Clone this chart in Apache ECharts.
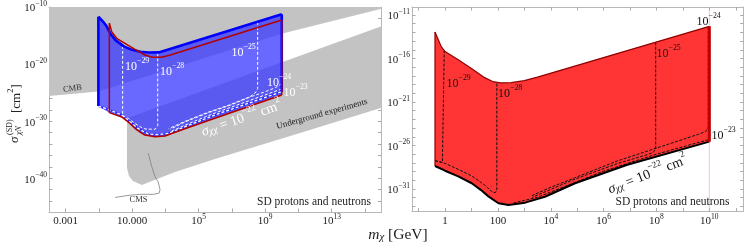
<!DOCTYPE html>
<html><head><meta charset="utf-8">
<script src="https://cdn.jsdelivr.net/npm/echarts@6/dist/echarts.min.js"></script>
<style>html,body{margin:0;padding:0;background:#fff}#c{width:747px;height:247px}</style>
</head><body><div id="c"></div>
<script>
// All values are log10: x = log10(m_chi / GeV), y = log10(sigma / cm^2)
// ---------- ticks ----------
const leftXTicks = [-3, 1, 5, 9, 13];
const leftXTickLabels = ['0.001', '10.000', '10^5', '10^9', '10^13'];
const leftXMinorTicks = [-3, -1, 1, 3, 5, 7, 9, 11, 13, 15];
const leftYTicks = [-40, -30, -20, -10];
const leftYTickLabels = ['10^-40', '10^-30', '10^-20', '10^-10'];
const leftYMinorTicks = [-44, -42, -40, -38, -36, -34, -32, -30, -28, -26, -24, -22, -20, -18, -16, -14, -12];
const rightXTicks = [0, 2, 4, 6, 8, 10];
const rightXTickLabels = ['1', '100', '10^4', '10^6', '10^8', '10^10'];
const rightXMinorTicks = [-1, 0, 1, 2, 3, 4, 5, 6, 7, 8, 9, 10, 11];
const rightYTicks = [-31, -26, -21, -16, -11];
const rightYTickLabels = ['10^-31', '10^-26', '10^-21', '10^-16', '10^-11'];
const rightYMinorTicks = [-33, -32, -31, -30, -29, -28, -27, -26, -25, -24, -23, -22, -21, -20, -19, -18, -17, -16, -15, -14, -13, -12, -11];

// ---------- left panel ----------
const cmbRegion = [[-4, -10], [16, -10], [16, -10.3], [10.1, -14.6], [-1.05, -24.8], [-4, -25.6]];
const undergroundRegion = [[0.69, -29.5], [16, -13.35], [16, -27.65], [11.1, -32.07], [5.98, -36.62], [3.58, -38.9], [1.58, -41.17], [1.05, -40.47], [0.81, -39.6], [0.69, -38.2]];
const cmsLeader = [[1.97, -35.6], [2.18, -37.95], [2.38, -39.7], [2.57, -40.65], [2.68, -42.0], [2.62, -42.6], [2.3, -42.8], [1.47, -42.8], [0.75, -43.0], [-0.03, -43.35]];
const blueTop = [[-1.03, -11.7], [-0.75, -12.55], [-0.55, -13.3], [-0.3, -14.7], [0.0, -15.8], [0.5, -16.9], [1.0, -17.5], [1.5, -17.85], [2.0, -17.98], [2.6, -17.95], [10.0, -11.25]];
const blueBottom = [[-1.03, -27.34], [-0.23, -28.16], [0.37, -28.91], [0.87, -30.1], [1.37, -31.3], [1.97, -32.24], [2.57, -32.36], [3.17, -32.12], [5.98, -28.91], [10.0, -24.83]];
const leftRedTop = [[-0.37, -12.85], [-0.23, -14.33], [0.07, -15.48], [0.57, -16.36], [1.17, -17.41], [1.77, -18.41], [2.18, -18.78], [2.78, -18.81], [3.3, -18.4], [10.0, -12.28]];
const leftRedBottom = [[-0.37, -28.5], [0.37, -29.25], [0.8, -30.2], [1.17, -31.24], [1.5, -31.95], [1.77, -32.42], [2.38, -32.71], [2.98, -32.59], [4.0, -31.5], [5.98, -29.49], [10.0, -25.41]];
const w29 = [[0.43, -16.8], [0.43, -29.0]];
const w28 = [[0.43, -29.0], [0.77, -29.5], [1.17, -30.4], [1.5, -31.0], [1.77, -31.35], [2.38, -31.42], [2.5, -31.2], [2.54, -30.8], [2.54, -17.95]];
const w25 = [[8.55, -12.6], [8.55, -24.3], [8.45, -24.9], [8.1, -25.7], [6.9, -27.1], [5.5, -28.5], [4.2, -30.0], [3.2, -31.3]];
const w24 = [[10, -23.4], [9.6, -24.15], [8.9, -24.95], [8.1, -25.75], [6.9, -27.2], [5.5, -28.6], [4.2, -30.1], [3.3, -31.4]];
const w23 = [[10, -24.35], [8, -26.45], [6, -28.55], [4.5, -30.3], [3.4, -31.7]];

// ---------- right panel ----------
const redTop = [[-0.38, -12.95], [-0.15, -14.6], [0.0, -15.2], [0.5, -16.15], [1.0, -17.15], [1.5, -18.2], [1.8, -18.65], [2.1, -18.8], [2.5, -18.78], [3.0, -18.55], [3.5, -18.14], [10.0, -12.3]];
const redBottom = [[-0.38, -28.36], [0.0, -28.9], [0.5, -29.55], [1.01, -30.34], [1.35, -31.1], [1.64, -31.85], [2.02, -32.64], [2.4, -32.84], [3.03, -32.57], [3.78, -31.89], [4.92, -30.34], [6.87, -28.24], [10.0, -25.56]];
const r29 = [[-0.38, -27.75], [-0.1, -27.95], [-0.03, -27.85], [-0.03, -15.1]];
const r28 = [[-0.38, -27.75], [0.0, -28.05], [0.5, -28.75], [1.01, -29.5], [1.5, -30.55], [1.75, -31.25], [1.85, -31.42], [1.93, -31.35], [1.96, -31.0], [1.96, -18.8]];
const r25 = [[7.97, -14.15], [7.97, -26.4], [7.87, -26.8], [7.65, -27.05], [6.5, -28.1], [5.6, -29.1], [4.8, -30.0], [4.0, -31.05], [3.3, -31.95]];
const r24 = [[9.96, -12.34], [9.96, -23.9], [9.86, -24.4], [9.6, -24.7], [8.0, -26.3], [6.5, -27.8], [5.0, -29.6], [4.0, -30.8], [3.3, -31.75]];
const r23 = [[10.0, -24.9], [10.0, -25.3], [8.0, -27.0], [6.0, -28.95], [4.5, -30.75], [3.5, -31.95], [2.6, -32.6]];
const refLine10 = [[10, -33.6], [10, -10.08]];

// ---------- build ----------
const F = 'Liberation Serif';
function fmt(s) {
  const m = /^10\^(-?\d+)$/.exec(s);
  if (m) return '{b|10}{s|' + m[1].replace('-', '\u2212') + '}';
  return '{b|' + s + '}';
}
const RT = {
  b: {fontFamily: F, fontSize: 11, color: '#222', lineHeight: 14, verticalAlign: 'bottom'},
  s: {fontFamily: F, fontSize: 7.5, color: '#222', lineHeight: 8.5, verticalAlign: 'top'}
};
function axis(kind, grid, pos, min, max, minor, ticks, labels) {
  const a = {
    type: 'value', gridIndex: grid, position: pos, min: min, max: max,
    axisLine: {show: true, onZero: false, lineStyle: {color: '#b8b8b8', width: 1}},
    axisTick: {show: true, inside: true, length: 3.5, customValues: minor, lineStyle: {color: '#aaa'}},
    splitLine: {show: false},
    axisLabel: {show: false}
  };
  if (labels) {
    a.axisLabel = {show: true, customValues: ticks, margin: kind === 'x' ? 1 : 2, rich: RT,
      formatter: v => { const i = ticks.indexOf(v); return i < 0 ? '' : fmt(labels[i]); }};
  }
  return a;
}
const xAxis = [
  axis('x', 0, 'bottom', -4, 16, leftXMinorTicks, leftXTicks, leftXTickLabels),
  axis('x', 0, 'top', -4, 16, leftXMinorTicks),
  axis('x', 1, 'bottom', -1.25, 11.3, rightXMinorTicks, rightXTicks, rightXTickLabels),
  axis('x', 1, 'top', -1.25, 11.3, rightXMinorTicks)
];
const yAxis = [
  axis('y', 0, 'left', -45.9, -10, leftYMinorTicks, leftYTicks, leftYTickLabels),
  axis('y', 0, 'right', -45.9, -10, leftYMinorTicks),
  axis('y', 1, 'left', -33.6, -10.08, rightYMinorTicks, rightYTicks, rightYTickLabels),
  axis('y', 1, 'right', -33.6, -10.08, rightYMinorTicks)
];
const series = [];
let zc = 2;
function poly(pts, g, fill) {
  series.push({type: 'custom', xAxisIndex: g * 2, yAxisIndex: g * 2, silent: true, clip: true, z: zc++,
    data: [pts[0]],
    renderItem: (p, api) => ({type: 'polygon', shape: {points: pts.map(q => api.coord(q))}, style: {fill: fill}})});
}
function line(pts, g, color, width, dash) {
  series.push({type: 'line', xAxisIndex: g * 2, yAxisIndex: g * 2, data: pts, showSymbol: false, silent: true,
    clip: true, z: zc++, animation: false,
    lineStyle: {color: color, width: width, type: dash || 'solid', join: 'round'}});
}
// left
poly(cmbRegion, 0, '#c3c3c3');
poly(undergroundRegion, 0, '#c3c3c3');
line(cmsLeader, 0, '#808080', 0.8);
const bluePoly = blueTop.concat(leftRedBottom.slice().reverse(), [blueBottom[0]]);
poly(bluePoly, 0, 'rgba(52,52,255,0.74)');
line(blueBottom, 0, '#2b2bff', 2);
const WD = [3, 2];
[w29, w28, w25, w24, w23].forEach(c => line(c, 0, '#ffffff', 1, WD));
line(blueBottom, 0, '#ffffff', 1.3, WD);
line(blueTop, 0, '#0000ff', 2.6);
line([blueTop[0], blueBottom[0]], 0, '#0000ff', 2.6);
line([blueTop[blueTop.length - 1], blueBottom[blueBottom.length - 1]], 0, '#0000ff', 2.6);
line(leftRedTop, 0, '#b30000', 1.5);
line(leftRedBottom, 0, '#b30000', 1.5);
line([leftRedTop[0], leftRedBottom[0]], 0, '#b30000', 1.5);
line([leftRedTop[leftRedTop.length - 1], leftRedBottom[leftRedBottom.length - 1]], 0, '#b30000', 1.5);
// right
line(refLine10, 1, 'rgba(255,150,150,0.55)', 1);
poly(redTop.concat(redBottom.slice().reverse()), 1, '#ff3434');
const BD = [3, 1.5];
[r29, r28, r25, r24, r23].forEach(c => line(c, 1, '#111111', 1, BD));
line(redBottom, 1, '#000000', 2);
line(redTop, 1, '#8f0000', 1.2);
line([redTop[0], redBottom[0]], 1, '#8f0000', 1.2);
line([redTop[redTop.length - 1], redBottom[redBottom.length - 1]], 1, '#c00000', 3);

// ---------- annotations ----------
function rich(size, color) {
  const ss = size * 0.65, sb = size * 0.7;
  return {
    b: {fontFamily: F, fontSize: size, fill: color, lineHeight: size + 4, verticalAlign: 'bottom'},
    i: {fontFamily: F, fontSize: size, fontStyle: 'italic', fill: color, lineHeight: size + 4, verticalAlign: 'bottom'},
    s: {fontFamily: F, fontSize: ss, fill: color, lineHeight: ss * 1.25, verticalAlign: 'top'},
    u: {fontFamily: F, fontSize: sb, fontStyle: 'italic', fill: color, lineHeight: sb * 1.1, verticalAlign: 'bottom'}
  };
}
function txt(x, y, text, size, color, align, rotDeg) {
  return {type: 'text', x: x, y: y, rotation: (rotDeg || 0) * Math.PI / 180, silent: true, z: 100,
    style: {text: text, fill: color, fontFamily: F, fontSize: size, align: align || 'center', verticalAlign: 'middle', rich: rich(size, color)}};
}
const sigmaLabel = '{i|σ}{u|χχ}{b| = 10}{s|\u221222}{b| cm}{s|2}';
const graphic = [
  txt(72.5, 88.5, 'CMB', 8.5, '#333', 'center', 8),
  txt(138.5, 200, 'CMS', 8.5, '#333'),
  txt(322, 114, 'Underground experiments', 9, '#222', 'center', 15.6),
  txt(314, 201.5, 'SD protons and neutrons', 11.5, '#222'),
  txt(672.5, 201.5, 'SD protons and neutrons', 11.5, '#222'),
  txt(125, 65, fmt('10^-29'), 12, '#fff', 'left'),
  txt(160, 70, fmt('10^-28'), 12, '#fff', 'left'),
  txt(231.5, 50.5, fmt('10^-25'), 12, '#fff', 'left'),
  txt(267, 80.5, fmt('10^-24'), 12, '#fff', 'left'),
  txt(283.5, 90.5, fmt('10^-23'), 12, '#fff', 'left'),
  txt(241, 117, sigmaLabel, 14, '#fff', 'center', 19),
  txt(446.5, 81.5, fmt('10^-29'), 12, '#111', 'left'),
  txt(498, 91.5, fmt('10^-28'), 12, '#111', 'left'),
  txt(656.5, 51.5, fmt('10^-25'), 12, '#111', 'left'),
  txt(696.5, 20, fmt('10^-24'), 12, '#111', 'left'),
  txt(711.5, 133.5, fmt('10^-23'), 12, '#111', 'left'),
  txt(647, 173, sigmaLabel, 14, '#111', 'center', 21.4),
  txt(398, 233, '{i|m}{u|χ}{b| [GeV]}', 15.5, '#222'),
  {type: 'group', x: 15, y: 143, rotation: Math.PI / 2, silent: true, z: 100, children: [
    {type: 'text', x: 0, y: 0, style: {text: 'σ', fontFamily: F, fontSize: 13, fontStyle: 'italic', fill: '#222', align: 'left', verticalAlign: 'middle'}},
    {type: 'text', x: 8, y: -5, style: {text: '(SD)', fontFamily: F, fontSize: 8, fill: '#222', align: 'left', verticalAlign: 'middle'}},
    {type: 'text', x: 8, y: 3.5, style: {text: 'χN', fontFamily: F, fontSize: 8, fontStyle: 'italic', fill: '#222', align: 'left', verticalAlign: 'middle'}},
    {type: 'text', x: 30, y: 0, style: {text: '{b|[cm}{s|2}{b|]}', fontFamily: F, fontSize: 13, fill: '#222', align: 'left', verticalAlign: 'middle', rich: rich(13, '#222')}}
  ]}
];

const chart = echarts.init(document.getElementById('c'), null, {renderer: 'canvas'});
chart.setOption({
  backgroundColor: '#ffffff',
  animation: false,
  grid: [
    {left: 49, top: 7, width: 332.5, height: 205, show: false},
    {left: 412, top: 7, width: 331.7, height: 204.6, show: false}
  ],
  xAxis: xAxis,
  yAxis: yAxis,
  series: series,
  graphic: graphic
});
</script></body></html>
